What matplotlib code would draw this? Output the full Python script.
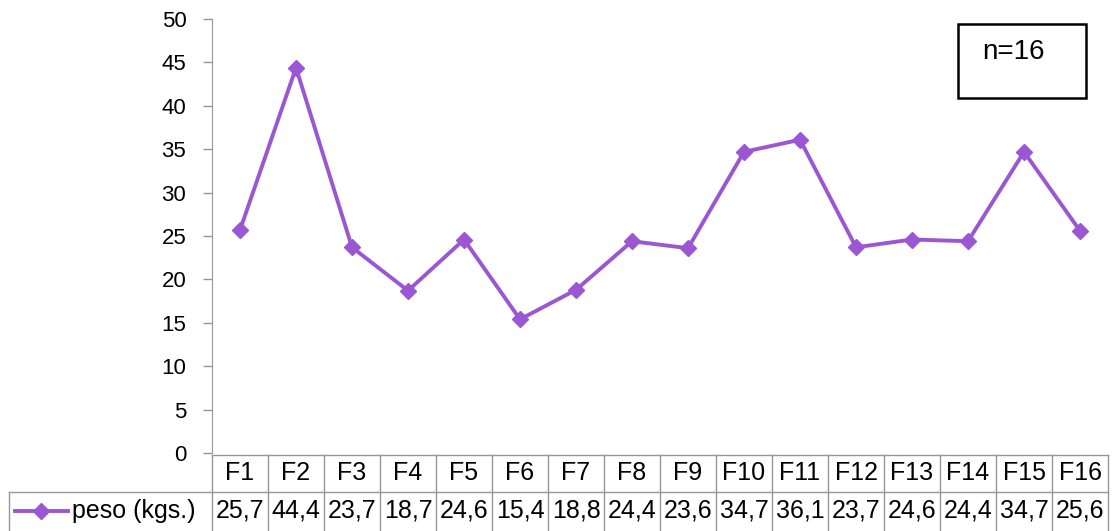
import matplotlib.pyplot as plt
from matplotlib.transforms import blended_transform_factory
from matplotlib.lines import Line2D

plt.rcParams['font.family'] = ['Liberation Sans', 'DejaVu Sans']

# data
categories = ['F%d' % i for i in range(1, 17)]
peso = [25.7, 44.4, 23.7, 18.7, 24.6, 15.4, 18.8, 24.4,
        23.6, 34.7, 36.1, 23.7, 24.6, 24.4, 34.7, 25.6]
series_name = 'peso (kgs.)'
y_ticks = list(range(0, 51, 5))

color = '#9B57D3'
grid_c = '#969696'
fs_tab = 18

fig = plt.figure(figsize=(11.2, 5.31), dpi=100)
ax = fig.add_axes([0.1893, 0.147, 0.8, 0.817])
x = list(range(len(categories)))
ax.plot(x, peso, color=color, lw=2.8, marker='D', markersize=8.5, zorder=3)
ax.set_xlim(-0.5, len(categories) - 0.5)
ax.set_ylim(0, 50)
ax.set_yticks(y_ticks)
ax.set_yticklabels([str(t) for t in y_ticks], fontsize=16)
ax.set_xticks([])
for s in ['top', 'right', 'bottom']:
    ax.spines[s].set_visible(False)
ax.spines['left'].set_color(grid_c)
ax.tick_params(axis='y', color=grid_c, length=6.5, width=1, pad=12)

# data table below axis
tr = blended_transform_factory(ax.transData, ax.transAxes)
ax_h = 434.0
y_top = -2 / ax_h
y_mid = -39 / ax_h
y_bot = -80 / ax_h
kw = dict(transform=tr, clip_on=False, color=grid_c, lw=1)
ax.plot([-0.5, len(categories) - 0.5], [y_top, y_top], **kw)
ax.plot([-0.5, len(categories) - 0.5], [y_mid, y_mid], **kw)
for i in range(len(categories) + 1):
    ax.plot([i - 0.5, i - 0.5], [y_top, y_bot], **kw)
for i, (c, v) in enumerate(zip(categories, peso)):
    ax.text(i, -20 / ax_h, c, transform=tr, ha='center', va='center',
            fontsize=fs_tab)
    ax.text(i, -58 / ax_h, ('%.1f' % v).replace('.', ','),
            transform=tr, ha='center', va='center', fontsize=fs_tab)

# legend cell on the left
px = lambda p: p / 1120.0
py = lambda p: 1 - p / 531.0
fig.add_artist(Line2D([px(9), px(212)], [py(492), py(492)], color=grid_c, lw=1))
fig.add_artist(Line2D([px(9), px(9)], [py(492), py(531)], color=grid_c, lw=1))
fig.add_artist(Line2D([px(15), px(68)], [py(511), py(511)], color=color, lw=2.8))
fig.add_artist(Line2D([px(41)], [py(511)], color=color, marker='D',
                      markersize=8.5, lw=0))
fig.text(px(72), py(511), series_name, ha='left', va='center', fontsize=fs_tab)

# n box
ax.add_patch(plt.Rectangle((0.833, 0.818), 0.142, 0.17, transform=ax.transAxes,
                           fill=False, ec='black', lw=1.8, clip_on=False))
ax.text(0.8595, 0.925, 'n=16', transform=ax.transAxes, ha='left', va='center',
        fontsize=20)

fig.savefig('out.png', dpi=100)
